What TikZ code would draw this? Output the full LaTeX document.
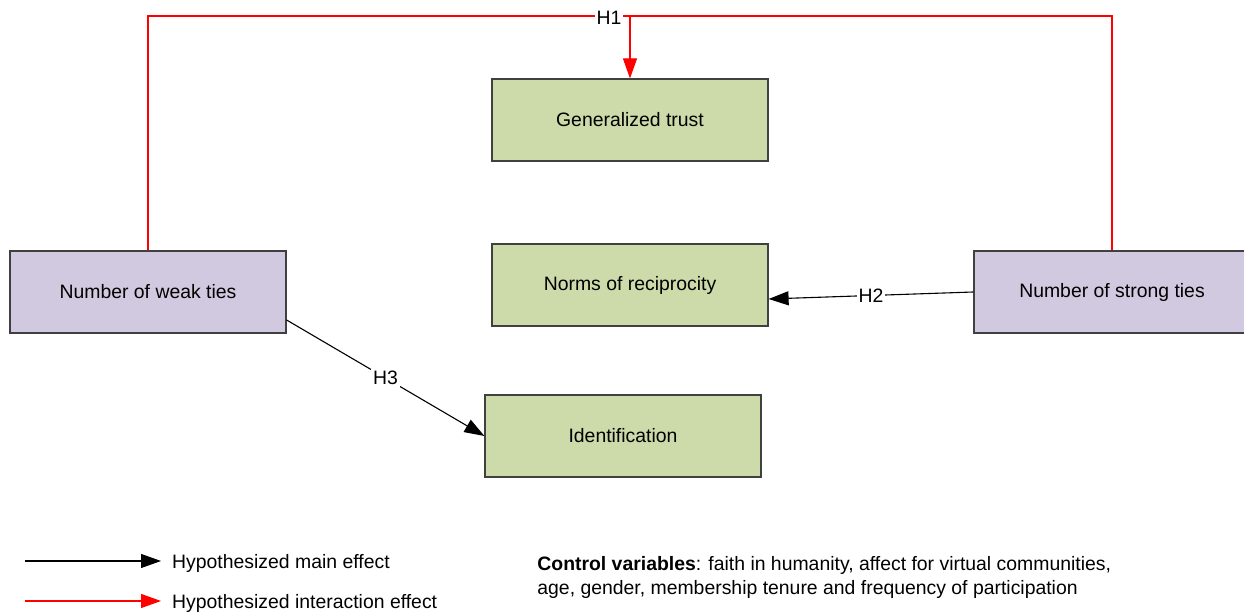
\documentclass[tikz,border=0pt]{standalone}
\usepackage{fontspec}
\setmainfont{Liberation Sans}
\usetikzlibrary{arrows.meta}
\definecolor{ConstructGreen}{RGB}{204,219,169}
\definecolor{TiesLavender}{RGB}{209,201,223}

\begin{document}
\begin{tikzpicture}[x=0.5pt,y=-0.5pt,font=\fontsize{9.7}{12}\selectfont,
  box/.style={draw=black!75,line width=0.6pt,fill=#1,minimum width=138pt,minimum height=41pt,inner sep=0pt},
  eff/.style={#1,line width=0.55pt,-{Triangle[length=10pt,width=7pt]}},
  hyp/.style={fill=white,inner sep=1pt}]
\useasboundingbox (0,0) rectangle (1244,613);
\clip (0,0) rectangle (1244,613);
\node[box=ConstructGreen](trust) at(630,120) {Generalized trust};
\node[box=ConstructGreen](recip) at(630,285) {Norms of reciprocity};
\node[box=ConstructGreen](ident) at(623,436) {Identification};
\node[box=TiesLavender](weak) at(148,292) {Number of weak ties};
\node[box=TiesLavender](strong) at(1112,292) {Number of strong ties};
% interaction path
\coordinate (h1) at (630,16);
\draw[red,line width=0.55pt] (weak.north) |- (h1) -| (strong.north);
\node[hyp](h1lbl) at(609,18) {H1};
\draw[eff=red] (h1) -- (trust.north);
% main effects
\draw[eff=black] (strong.west) -- node[hyp,pos=0.5]{H2} ([yshift=-7pt]recip.east);
\draw[eff=black] ([yshift=-14pt]weak.east) -- node[hyp,pos=0.5]{H3} (ident.west);
% legend
\foreach \y/\c/\t in {561/black/main,601/red/interaction} {
   \coordinate (l\c a) at (25,\y);
   \coordinate (l\c b) at (161,\y);
   \draw[eff=\c] (l\c a) -- (l\c b) node[right=2pt,text=black,yshift=-1pt]{Hypothesized \t\ effect};
}
\node[anchor=north west,align=left,inner sep=0pt](ctrl) at(537,556)
   {\textbf{Control variables}: faith in humanity, affect for virtual communities,\\
    age, gender, membership tenure and frequency of participation};
\end{tikzpicture}
\end{document}
